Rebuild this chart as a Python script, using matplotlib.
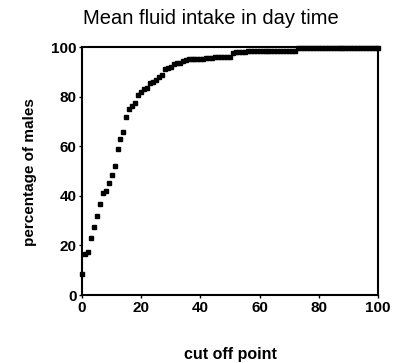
import numpy as np
import matplotlib.pyplot as plt

plt.rcParams['font.family'] = ['Liberation Sans', 'DejaVu Sans']

# cumulative percentage of males at each cut off point
cutoff = list(range(0, 101))
pct_head = [8.5, 16.4, 17.5, 22.9, 27.5, 32.0, 36.6, 41.0, 42.0, 45.0,
            48.4, 52.0, 58.7, 63.0, 65.7, 71.9, 74.9, 76.2, 77.3, 80.6,
            82.0, 83.0, 83.6, 85.4, 86.0, 86.7, 87.8, 88.6, 91.0, 91.5,
            92.0, 93.0, 93.4, 93.7, 94.2, 94.8, 95.0, 95.0, 95.0, 95.2,
            95.2, 95.2, 95.4, 95.4, 95.4, 96.0, 96.0, 96.0, 96.0, 96.0,
            96.0, 97.7, 98.0, 98.0, 98.0, 98.0]
pct_mid = [98.5] * 17      # cut off 56 - 72
pct_tail = [99.5] * 28     # cut off 73 - 100
percentage = pct_head + pct_mid + pct_tail

fig = plt.figure(figsize=(4.01, 3.63), dpi=100)
ax = fig.add_axes([0.2045, 0.1873, 0.7381, 0.6832])

ax.plot(cutoff, percentage, 's', color='black', markersize=3.2, clip_on=False)

ax.set_xlim(0, 100)
ax.set_ylim(0, 100)
ax.set_xticks([0, 20, 40, 60, 80, 100])
ax.set_yticks([0, 20, 40, 60, 80, 100])
ax.tick_params(direction='out', length=2, width=1, labelsize=11, pad=2)
for lab in ax.get_xticklabels() + ax.get_yticklabels():
    lab.set_fontweight('bold')
for s in ax.spines.values():
    s.set_linewidth(1.5)

fig.text(30 / 401, 1 - 172 / 363, 'percentage of males', fontsize=11, fontweight='bold',
         ha='center', va='center', rotation=90)
fig.text(230 / 401, 1 - 354 / 363, 'cut off point', fontsize=11.5, fontweight='bold',
         ha='center', va='center')
fig.text(211 / 401, 1 - 19 / 363, 'Mean fluid intake in day time', fontsize=14.5,
         ha='center', va='center')

fig.savefig('out.png', dpi=100)
